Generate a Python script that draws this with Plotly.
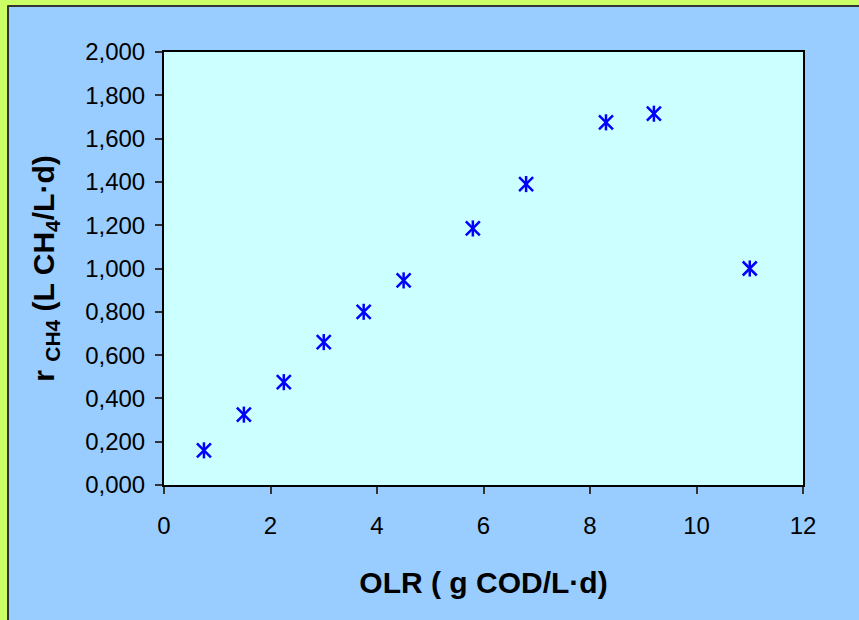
import plotly.graph_objects as go

# Organic loading rate (g COD/L·d) and methane production rate (L CH4/L·d)
olr = [0.75, 1.5, 2.25, 3.0, 3.75, 4.5, 5.8, 6.8, 8.3, 9.2, 11.0]
r_ch4 = [0.160, 0.325, 0.475, 0.660, 0.800, 0.945, 1.185, 1.390, 1.675, 1.715, 1.000]

x_ticks = [0, 2, 4, 6, 8, 10, 12]
y_ticks = [0.0, 0.2, 0.4, 0.6, 0.8, 1.0, 1.2, 1.4, 1.6, 1.8, 2.0]

W, H = 859, 620
L, R, T, B = 164, 56, 52, 135
PW, PH = W - L - R, H - T - B

BLUE = "#0000FF"
FONT = "Liberation Sans, Arial, sans-serif"


def fx(px):
    return (px - L) / PW


def fy(py):
    return (H - B - py) / PH


fig = go.Figure()

# Star marker: an X with a vertical stroke through it
fig.add_trace(go.Scatter(
    x=olr, y=r_ch4, mode="markers", showlegend=False, hoverinfo="skip",
    marker=dict(symbol="x-thin-open", size=14, color=BLUE,
                line=dict(color=BLUE, width=2.5)),
))
fig.add_trace(go.Scatter(
    x=olr, y=r_ch4, mode="markers", showlegend=False,
    marker=dict(symbol="line-ns-open", size=11.5, color=BLUE,
                line=dict(color=BLUE, width=2.5)),
))

axis_common = dict(
    showgrid=False, zeroline=False,
    showline=True, linecolor="black", linewidth=2, mirror=True,
    ticks="outside", ticklen=7, tickwidth=1.5, tickcolor="#333333",
    tickfont=dict(family=FONT, size=24, color="black"),
)

fig.update_xaxes(
    range=[0, 12], tickvals=x_ticks, ticklabelstandoff=11,
    title=dict(text="<b>OLR ( g COD/L·d)</b>", standoff=34,
               font=dict(family=FONT, size=30, color="black")),
    **axis_common,
)
fig.update_yaxes(
    range=[0, 2], tickvals=y_ticks, tickformat=".3f", ticklabelstandoff=5,
    title=dict(text="<b>r <sub>CH4</sub> (L CH<sub>4</sub>/L·d)</b>", standoff=22,
               font=dict(family=FONT, size=30, color="black")),
    **axis_common,
)

shapes = [
    # yellow-green frame strips along the top and left edges
    dict(type="rect", xref="paper", yref="paper", layer="above",
         x0=fx(0), x1=fx(W), y0=fy(0), y1=fy(5.5),
         fillcolor="#CCFF66", line=dict(width=0)),
    dict(type="rect", xref="paper", yref="paper", layer="above",
         x0=fx(0), x1=fx(7.5), y0=fy(0), y1=fy(H),
         fillcolor="#CCFF66", line=dict(width=0)),
    # dark edge of the chart panel
    dict(type="line", xref="paper", yref="paper", layer="above",
         x0=fx(7.5), x1=fx(W), y0=fy(6), y1=fy(6),
         line=dict(color="#333333", width=2)),
    dict(type="line", xref="paper", yref="paper", layer="above",
         x0=fx(8), x1=fx(8), y0=fy(5.5), y1=fy(H),
         line=dict(color="#333333", width=2)),
]

fig.update_layout(
    width=W, height=H,
    margin=dict(l=L, r=R, t=T, b=B, pad=0),
    paper_bgcolor="#99CCFF", plot_bgcolor="#CCFFFF",
    separators=", ",
    font=dict(family=FONT, color="black"),
    shapes=shapes,
    showlegend=False,
)

fig.write_html("out.html")
